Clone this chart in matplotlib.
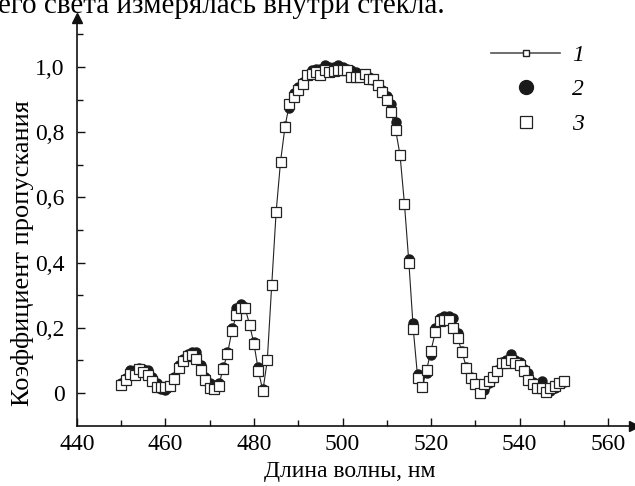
import matplotlib
matplotlib.use("Agg")
import matplotlib.pyplot as plt
from matplotlib.lines import Line2D
from matplotlib.ticker import FixedLocator

plt.rcParams['font.family'] = ['Liberation Serif', 'DejaVu Serif']

wavelength = list(range(450, 551))

trans3 = [0.025, 0.04, 0.058, 0.055, 0.075, 0.065, 0.055, 0.037, 0.018, 0.018,
          0.018, 0.02, 0.044, 0.078, 0.098, 0.115, 0.118, 0.105, 0.07, 0.04,
          0.015, 0.012, 0.02, 0.075, 0.12, 0.19, 0.24, 0.262, 0.26, 0.21,
          0.15, 0.068, 0.006, 0.10, 0.33, 0.555, 0.71, 0.816, 0.888, 0.909,
          0.929, 0.947, 0.975, 0.98, 0.985, 0.975, 0.99, 0.986, 0.988, 0.99,
          0.99, 0.99, 0.97, 0.97, 0.97, 0.98, 0.963, 0.963, 0.945, 0.922,
          0.898, 0.862, 0.808, 0.73, 0.58, 0.40, 0.195, 0.045, 0.018, 0.07,
          0.13, 0.188, 0.22, 0.224, 0.224, 0.2, 0.17, 0.126, 0.078, 0.045,
          0.029, 0.001, 0.029, 0.037, 0.05, 0.066, 0.093, 0.093, 0.10, 0.093,
          0.086, 0.066, 0.039, 0.029, 0.016, 0.016, 0.004, 0.015, 0.02, 0.032,
          0.037]

trans1 = list(trans3)

trans2 = [0.03, 0.045, 0.07, 0.07, 0.078, 0.075, 0.07, 0.05, 0.03, 0.012,
          0.01, 0.02, 0.05, 0.085, 0.105, 0.12, 0.125, 0.125, 0.085, 0.05,
          0.03, 0.025, 0.03, 0.08, 0.125, 0.2, 0.26, 0.272, 0.265, 0.21,
          0.155, 0.08, 0.012, 0.10, 0.33, 0.555, 0.71, 0.82, 0.874, 0.92,
          0.94, 0.955, 0.975, 0.99, 0.995, 0.995, 1.005, 1.0, 1.0, 1.005,
          1.0, 0.995, 0.99, 0.985, 0.98, 0.975, 0.97, 0.96, 0.945, 0.93,
          0.91, 0.886, 0.832, 0.73, 0.58, 0.41, 0.216, 0.058, 0.02, 0.06,
          0.117, 0.2, 0.23, 0.237, 0.235, 0.23, 0.185, 0.13, 0.08, 0.05,
          0.03, 0.005, 0.01, 0.03, 0.045, 0.07, 0.095, 0.10, 0.12, 0.10,
          0.095, 0.075, 0.06, 0.035, 0.02, 0.037, 0.01, 0.005, 0.015, 0.03,
          0.035]

series_labels = ['1', '2', '3']
x_ticks = [440, 460, 480, 500, 520, 540, 560]
y_ticks = [0, 0.2, 0.4, 0.6, 0.8, 1.0]
y_tick_labels = ['0', '0,2', '0,4', '0,6', '0,8', '1,0']

fig = plt.figure(figsize=(6.35, 4.86), dpi=100)
ax_bottom_px = 426
ax = fig.add_axes([77/635, 1 - ax_bottom_px/486, (634 - 77)/635, (ax_bottom_px - 18)/486])

ax.plot(wavelength, trans2, 'o', color='#1a1a1a', ms=6.5, mec='#1a1a1a', zorder=2)
ax.plot(wavelength, trans1, '-', color='#222222', lw=0.8, marker='s', ms=3,
        mfc='white', mec='#222222', zorder=3)
ax.plot(wavelength, trans3, 's', ms=6.5, mfc='white', mec='#222222', mew=0.9, zorder=4)

ax.set_xlim(440, 440 + (634 - 77) / 4.425)
ax.set_ylim(-(ax_bottom_px - 393) / 326, (393 - 18) / 326)

for s in ['top', 'right']:
    ax.spines[s].set_visible(False)
for s in ['left', 'bottom']:
    ax.spines[s].set_linewidth(1.2)
    ax.spines[s].set_color('#111111')

ax.plot(1, 0, '>', color='#111111', ms=7, transform=ax.transAxes, clip_on=False)
ax.plot(0, 1, '^', color='#111111', ms=7, transform=ax.transAxes, clip_on=False)

ax.xaxis.set_major_locator(FixedLocator(x_ticks))
ax.xaxis.set_minor_locator(FixedLocator([450, 470, 490, 510, 530, 550]))
ax.yaxis.set_major_locator(FixedLocator(y_ticks))
ax.yaxis.set_minor_locator(FixedLocator([0.1, 0.3, 0.5, 0.7, 0.9, 1.1]))
ax.set_yticklabels(y_tick_labels)
ax.set_xticklabels([str(v) for v in x_ticks])
ax.tick_params(which='both', direction='in', labelsize=17, color='#111111')
ax.tick_params(which='major', length=6, width=1)
ax.tick_params(which='minor', length=4, width=1)
ax.tick_params(axis='y', pad=9)
ax.tick_params(axis='x', pad=6)

fig.text(350/635, 1 - 471/486, 'Длина волны, нм', ha='center', va='center', fontsize=17)
fig.text(23/635, 1 - 253/486, 'Коэффициент пропускания', ha='center', va='center',
         rotation=90, fontsize=19)

handles = [
    Line2D([], [], color='#555555', lw=1.2, marker='s', ms=4, mfc='white', mec='#222222'),
    Line2D([], [], ls='none', marker='o', ms=10, color='#1a1a1a'),
    Line2D([], [], ls='none', marker='s', ms=8.5, mfc='white', mec='#222222', mew=0.9),
]
leg = ax.legend(handles, series_labels, loc='upper right', bbox_to_anchor=(593/635, 1 - 35/486),
                bbox_transform=fig.transFigure, frameon=False, handlelength=2.9,
                handletextpad=0.5, labelspacing=0.55, borderaxespad=0,
                prop={'family': 'Liberation Serif', 'style': 'italic', 'size': 17})

fig.text(445/635, 1 - 13/486, 'его света измерялась внутри стекла.', ha='right', va='baseline',
         fontsize=21)

fig.savefig('out.png', dpi=100)
